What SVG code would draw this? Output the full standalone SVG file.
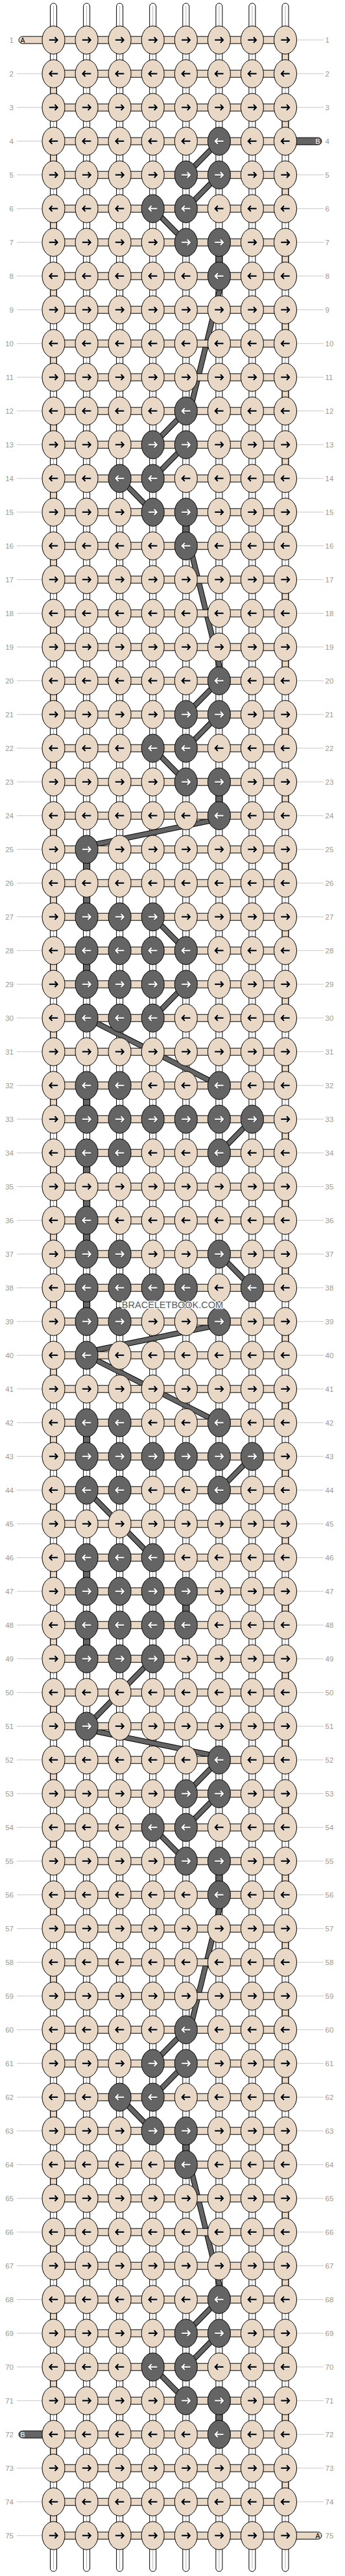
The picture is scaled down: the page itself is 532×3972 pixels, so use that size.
<svg xmlns="http://www.w3.org/2000/svg" xmlns:xlink="http://www.w3.org/1999/xlink" width="532" height="3972" viewBox="0 0 532 3972">
<style>
.wp{fill:#fff;stroke:#000;stroke-width:1}
.wc{fill:none;stroke:#b4b4b4;stroke-width:1}
.eo{fill:none;stroke:#000;stroke-width:10.5;stroke-dasharray:52 52}
.ei{fill:none;stroke:#E9D8C6;stroke-width:8.5;stroke-dasharray:52 52}
.vd{fill:#646464;stroke:#000;stroke-width:1}
.bo{fill:none;stroke:#000;stroke-width:8.6}
.bi{fill:none;stroke:#646464;stroke-width:6.6}
.hs{fill:#E9D8C6;stroke:#000;stroke-width:1}
.hd{fill:#646464;stroke:#000;stroke-width:1}
.kl{fill:#E9D8C6;stroke:#000;stroke-width:1}
.kd{fill:#646464;stroke:#000;stroke-width:1}
.hw{fill:none;stroke:#fff;stroke-width:3.4}
.sb{fill:none;stroke:#000;stroke-width:2.2}
.hb{fill:none;stroke:#2a2a2a;stroke-width:3.4}
.sw{fill:none;stroke:#fff;stroke-width:2.2}
.gl{fill:none;stroke:#c8c8c8;stroke-width:1}
.ll{font-family:"Liberation Sans",Arial,sans-serif;font-size:11.5px;fill:#999;text-anchor:end}
.rl{font-family:"Liberation Sans",Arial,sans-serif;font-size:11.5px;fill:#999;text-anchor:start}
.tA{font-family:"Liberation Sans",Arial,sans-serif;font-size:10.5px;fill:#000}
.tB{font-family:"Liberation Sans",Arial,sans-serif;font-size:10.5px;fill:#fff}
.wm{font-family:"Liberation Sans",Arial,sans-serif;font-size:14.5px;fill:#5a5a5a;stroke:#fff;stroke-width:2.4;paint-order:stroke;text-anchor:middle}
</style>
<defs>
<path id="ar" d="M-6.7,0H6.2M2,-4.4L6.2,0L2,4.4"/>
<g id="a"><ellipse class="kl" rx="17.5" ry="21.7"/><use href="#ar" class="hw"/><use href="#ar" class="sb"/></g>
<g id="b"><ellipse class="kl" rx="17.5" ry="21.7"/><g transform="scale(-1,1)"><use href="#ar" class="hw"/><use href="#ar" class="sb"/></g></g>
<g id="c"><ellipse class="kd" rx="17.5" ry="21.7"/><use href="#ar" class="hb"/><use href="#ar" class="sw"/></g>
<g id="d"><ellipse class="kd" rx="17.5" ry="21.7"/><g transform="scale(-1,1)"><use href="#ar" class="hb"/><use href="#ar" class="sw"/></g></g>
<g id="barlines">
<line x1="337.9" y1="217.7" x2="286.8" y2="269.7"/>
<line x1="337.9" y1="269.7" x2="286.8" y2="321.7"/>
<line x1="235.7" y1="321.7" x2="286.8" y2="373.7"/>
<line x1="343.9" y1="425.7" x2="292.8" y2="633.7"/>
<line x1="286.8" y1="633.7" x2="235.7" y2="685.7"/>
<line x1="286.8" y1="685.7" x2="235.7" y2="737.7"/>
<line x1="184.6" y1="737.7" x2="235.7" y2="789.7"/>
<line x1="292.8" y1="841.7" x2="343.9" y2="1049.7"/>
<line x1="337.9" y1="1049.7" x2="286.8" y2="1101.7"/>
<line x1="337.9" y1="1101.7" x2="286.8" y2="1153.7"/>
<line x1="235.7" y1="1153.7" x2="286.8" y2="1205.7"/>
<line x1="337.9" y1="1262.7" x2="133.6" y2="1304.7"/>
<line x1="235.7" y1="1413.7" x2="286.8" y2="1465.7"/>
<line x1="286.8" y1="1517.7" x2="235.7" y2="1569.7"/>
<line x1="133.6" y1="1569.7" x2="235.7" y2="1621.7"/>
<line x1="235.7" y1="1621.7" x2="337.9" y2="1673.7"/>
<line x1="388.9" y1="1725.7" x2="337.9" y2="1777.7"/>
<line x1="337.9" y1="1933.7" x2="388.9" y2="1985.7"/>
<line x1="337.9" y1="2042.7" x2="133.6" y2="2084.7"/>
<line x1="133.6" y1="2089.7" x2="235.7" y2="2141.7"/>
<line x1="235.7" y1="2141.7" x2="337.9" y2="2193.7"/>
<line x1="388.9" y1="2245.7" x2="337.9" y2="2297.7"/>
<line x1="133.6" y1="2297.7" x2="235.7" y2="2401.7"/>
<line x1="235.7" y1="2557.7" x2="133.6" y2="2661.7"/>
<line x1="133.6" y1="2666.7" x2="337.9" y2="2708.7"/>
<line x1="337.9" y1="2713.7" x2="286.8" y2="2765.7"/>
<line x1="337.9" y1="2765.7" x2="286.8" y2="2817.7"/>
<line x1="235.7" y1="2817.7" x2="286.8" y2="2869.7"/>
<line x1="343.9" y1="2921.7" x2="292.8" y2="3129.7"/>
<line x1="286.8" y1="3129.7" x2="235.7" y2="3181.7"/>
<line x1="286.8" y1="3181.7" x2="235.7" y2="3233.7"/>
<line x1="184.6" y1="3233.7" x2="235.7" y2="3285.7"/>
<line x1="292.8" y1="3337.7" x2="343.9" y2="3545.7"/>
<line x1="337.9" y1="3545.7" x2="286.8" y2="3597.7"/>
<line x1="337.9" y1="3597.7" x2="286.8" y2="3649.7"/>
<line x1="235.7" y1="3649.7" x2="286.8" y2="3701.7"/>
</g>
</defs>
<rect width="532" height="3972" fill="#fff"/>
<g id="warps">
<rect class="wp" x="77.5" y="5" width="10" height="3960" rx="5"/>
<rect class="wp" x="128.6" y="5" width="10" height="3960" rx="5"/>
<rect class="wp" x="179.6" y="5" width="10" height="3960" rx="5"/>
<rect class="wp" x="230.7" y="5" width="10" height="3960" rx="5"/>
<rect class="wp" x="281.8" y="5" width="10" height="3960" rx="5"/>
<rect class="wp" x="332.9" y="5" width="10" height="3960" rx="5"/>
<rect class="wp" x="383.9" y="5" width="10" height="3960" rx="5"/>
<rect class="wp" x="435" y="5" width="10" height="3960" rx="5"/>
<path class="wc" d="M82.5,9V3961M133.6,9V3961M184.6,9V3961M235.7,9V3961M286.8,9V3961M337.9,9V3961M388.9,9V3961M440,9V3961"/>
</g>
<g id="turns">
<path class="eo" d="M82.5,113.7V3909.7M440,61.7V3857.7"/>
<path class="ei" d="M82.5,113.7V3909.7M440,61.7V3857.7"/>
<rect class="vd" x="332.9" y="373.7" width="10" height="52"/>
<rect class="vd" x="281.8" y="789.7" width="10" height="52"/>
<rect class="vd" x="332.9" y="1205.7" width="10" height="52"/>
<rect class="vd" x="128.6" y="1309.7" width="10" height="104"/>
<rect class="vd" x="128.6" y="1465.7" width="10" height="52"/>
<rect class="vd" x="128.6" y="1673.7" width="10" height="52"/>
<rect class="vd" x="128.6" y="1777.7" width="10" height="156"/>
<rect class="vd" x="128.6" y="1985.7" width="10" height="52"/>
<rect class="vd" x="128.6" y="2193.7" width="10" height="52"/>
<rect class="vd" x="128.6" y="2401.7" width="10" height="52"/>
<rect class="vd" x="128.6" y="2505.7" width="10" height="52"/>
<rect class="vd" x="281.8" y="2453.7" width="10" height="52"/>
<rect class="vd" x="332.9" y="2869.7" width="10" height="52"/>
<rect class="vd" x="281.8" y="3285.7" width="10" height="52"/>
<rect class="vd" x="332.9" y="3701.7" width="10" height="52"/>
</g>
<g id="connectors">
<use href="#barlines" class="bo"/>
<use href="#barlines" class="bi"/>
</g>
<g id="rows">
<g id="row1" transform="translate(0,61.7)"><path class="gl" d="M457,0H499"/><text class="ll" x="21" y="4">1</text><text class="rl" x="501.5" y="4">1</text><rect class="hs" x="29" y="-5.5" width="411" height="11" rx="5.5"/><text class="tA" x="31.5" y="3.8">A</text><use id="k1-1" href="#a" x="82.5"/><use id="k1-2" href="#a" x="133.6"/><use id="k1-3" href="#a" x="184.6"/><use id="k1-4" href="#a" x="235.7"/><use id="k1-5" href="#a" x="286.8"/><use id="k1-6" href="#a" x="337.9"/><use id="k1-7" href="#a" x="388.9"/><use id="k1-8" href="#a" x="440"/></g>
<g id="row2" transform="translate(0,113.7)"><path class="gl" d="M26,0H65M457,0H499"/><text class="ll" x="21" y="4">2</text><text class="rl" x="501.5" y="4">2</text><rect class="hs" x="82.5" y="-5.5" width="357.5" height="11"/><use id="k2-1" href="#b" x="82.5"/><use id="k2-2" href="#b" x="133.6"/><use id="k2-3" href="#b" x="184.6"/><use id="k2-4" href="#b" x="235.7"/><use id="k2-5" href="#b" x="286.8"/><use id="k2-6" href="#b" x="337.9"/><use id="k2-7" href="#b" x="388.9"/><use id="k2-8" href="#b" x="440"/></g>
<g id="row3" transform="translate(0,165.7)"><path class="gl" d="M26,0H65M457,0H499"/><text class="ll" x="21" y="4">3</text><text class="rl" x="501.5" y="4">3</text><rect class="hs" x="82.5" y="-5.5" width="357.5" height="11"/><use id="k3-1" href="#a" x="82.5"/><use id="k3-2" href="#a" x="133.6"/><use id="k3-3" href="#a" x="184.6"/><use id="k3-4" href="#a" x="235.7"/><use id="k3-5" href="#a" x="286.8"/><use id="k3-6" href="#a" x="337.9"/><use id="k3-7" href="#a" x="388.9"/><use id="k3-8" href="#a" x="440"/></g>
<g id="row4" transform="translate(0,217.7)"><path class="gl" d="M26,0H65"/><text class="ll" x="21" y="4">4</text><text class="rl" x="501.5" y="4">4</text><rect class="hs" x="82.5" y="-5.5" width="357.5" height="11"/><rect class="hd" x="430" y="-5.5" width="66" height="11" rx="5.5"/><text class="tB" x="486.5" y="3.8">B</text><use id="k4-1" href="#b" x="82.5"/><use id="k4-2" href="#b" x="133.6"/><use id="k4-3" href="#b" x="184.6"/><use id="k4-4" href="#b" x="235.7"/><use id="k4-5" href="#b" x="286.8"/><use id="k4-6" href="#d" x="337.9"/><use id="k4-7" href="#b" x="388.9"/><use id="k4-8" href="#b" x="440"/></g>
<g id="row5" transform="translate(0,269.7)"><path class="gl" d="M26,0H65M457,0H499"/><text class="ll" x="21" y="4">5</text><text class="rl" x="501.5" y="4">5</text><rect class="hs" x="82.5" y="-5.5" width="357.5" height="11"/><use id="k5-1" href="#a" x="82.5"/><use id="k5-2" href="#a" x="133.6"/><use id="k5-3" href="#a" x="184.6"/><use id="k5-4" href="#a" x="235.7"/><use id="k5-5" href="#c" x="286.8"/><use id="k5-6" href="#c" x="337.9"/><use id="k5-7" href="#a" x="388.9"/><use id="k5-8" href="#a" x="440"/></g>
<g id="row6" transform="translate(0,321.7)"><path class="gl" d="M26,0H65M457,0H499"/><text class="ll" x="21" y="4">6</text><text class="rl" x="501.5" y="4">6</text><rect class="hs" x="82.5" y="-5.5" width="357.5" height="11"/><use id="k6-1" href="#b" x="82.5"/><use id="k6-2" href="#b" x="133.6"/><use id="k6-3" href="#b" x="184.6"/><use id="k6-4" href="#d" x="235.7"/><use id="k6-5" href="#d" x="286.8"/><use id="k6-6" href="#b" x="337.9"/><use id="k6-7" href="#b" x="388.9"/><use id="k6-8" href="#b" x="440"/></g>
<g id="row7" transform="translate(0,373.7)"><path class="gl" d="M26,0H65M457,0H499"/><text class="ll" x="21" y="4">7</text><text class="rl" x="501.5" y="4">7</text><rect class="hs" x="82.5" y="-5.5" width="357.5" height="11"/><use id="k7-1" href="#a" x="82.5"/><use id="k7-2" href="#a" x="133.6"/><use id="k7-3" href="#a" x="184.6"/><use id="k7-4" href="#a" x="235.7"/><use id="k7-5" href="#c" x="286.8"/><use id="k7-6" href="#c" x="337.9"/><use id="k7-7" href="#a" x="388.9"/><use id="k7-8" href="#a" x="440"/></g>
<g id="row8" transform="translate(0,425.7)"><path class="gl" d="M26,0H65M457,0H499"/><text class="ll" x="21" y="4">8</text><text class="rl" x="501.5" y="4">8</text><rect class="hs" x="82.5" y="-5.5" width="357.5" height="11"/><use id="k8-1" href="#b" x="82.5"/><use id="k8-2" href="#b" x="133.6"/><use id="k8-3" href="#b" x="184.6"/><use id="k8-4" href="#b" x="235.7"/><use id="k8-5" href="#b" x="286.8"/><use id="k8-6" href="#d" x="337.9"/><use id="k8-7" href="#b" x="388.9"/><use id="k8-8" href="#b" x="440"/></g>
<g id="row9" transform="translate(0,477.7)"><path class="gl" d="M26,0H65M457,0H499"/><text class="ll" x="21" y="4">9</text><text class="rl" x="501.5" y="4">9</text><rect class="hs" x="82.5" y="-5.5" width="357.5" height="11"/><use id="k9-1" href="#a" x="82.5"/><use id="k9-2" href="#a" x="133.6"/><use id="k9-3" href="#a" x="184.6"/><use id="k9-4" href="#a" x="235.7"/><use id="k9-5" href="#a" x="286.8"/><use id="k9-6" href="#a" x="337.9"/><use id="k9-7" href="#a" x="388.9"/><use id="k9-8" href="#a" x="440"/></g>
<g id="row10" transform="translate(0,529.7)"><path class="gl" d="M26,0H65M457,0H499"/><text class="ll" x="21" y="4">10</text><text class="rl" x="501.5" y="4">10</text><rect class="hs" x="82.5" y="-5.5" width="357.5" height="11"/><use id="k10-1" href="#b" x="82.5"/><use id="k10-2" href="#b" x="133.6"/><use id="k10-3" href="#b" x="184.6"/><use id="k10-4" href="#b" x="235.7"/><use id="k10-5" href="#b" x="286.8"/><use id="k10-6" href="#b" x="337.9"/><use id="k10-7" href="#b" x="388.9"/><use id="k10-8" href="#b" x="440"/></g>
<g id="row11" transform="translate(0,581.7)"><path class="gl" d="M26,0H65M457,0H499"/><text class="ll" x="21" y="4">11</text><text class="rl" x="501.5" y="4">11</text><rect class="hs" x="82.5" y="-5.5" width="357.5" height="11"/><use id="k11-1" href="#a" x="82.5"/><use id="k11-2" href="#a" x="133.6"/><use id="k11-3" href="#a" x="184.6"/><use id="k11-4" href="#a" x="235.7"/><use id="k11-5" href="#a" x="286.8"/><use id="k11-6" href="#a" x="337.9"/><use id="k11-7" href="#a" x="388.9"/><use id="k11-8" href="#a" x="440"/></g>
<g id="row12" transform="translate(0,633.7)"><path class="gl" d="M26,0H65M457,0H499"/><text class="ll" x="21" y="4">12</text><text class="rl" x="501.5" y="4">12</text><rect class="hs" x="82.5" y="-5.5" width="357.5" height="11"/><use id="k12-1" href="#b" x="82.5"/><use id="k12-2" href="#b" x="133.6"/><use id="k12-3" href="#b" x="184.6"/><use id="k12-4" href="#b" x="235.7"/><use id="k12-5" href="#d" x="286.8"/><use id="k12-6" href="#b" x="337.9"/><use id="k12-7" href="#b" x="388.9"/><use id="k12-8" href="#b" x="440"/></g>
<g id="row13" transform="translate(0,685.7)"><path class="gl" d="M26,0H65M457,0H499"/><text class="ll" x="21" y="4">13</text><text class="rl" x="501.5" y="4">13</text><rect class="hs" x="82.5" y="-5.5" width="357.5" height="11"/><use id="k13-1" href="#a" x="82.5"/><use id="k13-2" href="#a" x="133.6"/><use id="k13-3" href="#a" x="184.6"/><use id="k13-4" href="#c" x="235.7"/><use id="k13-5" href="#c" x="286.8"/><use id="k13-6" href="#a" x="337.9"/><use id="k13-7" href="#a" x="388.9"/><use id="k13-8" href="#a" x="440"/></g>
<g id="row14" transform="translate(0,737.7)"><path class="gl" d="M26,0H65M457,0H499"/><text class="ll" x="21" y="4">14</text><text class="rl" x="501.5" y="4">14</text><rect class="hs" x="82.5" y="-5.5" width="357.5" height="11"/><use id="k14-1" href="#b" x="82.5"/><use id="k14-2" href="#b" x="133.6"/><use id="k14-3" href="#d" x="184.6"/><use id="k14-4" href="#d" x="235.7"/><use id="k14-5" href="#b" x="286.8"/><use id="k14-6" href="#b" x="337.9"/><use id="k14-7" href="#b" x="388.9"/><use id="k14-8" href="#b" x="440"/></g>
<g id="row15" transform="translate(0,789.7)"><path class="gl" d="M26,0H65M457,0H499"/><text class="ll" x="21" y="4">15</text><text class="rl" x="501.5" y="4">15</text><rect class="hs" x="82.5" y="-5.5" width="357.5" height="11"/><use id="k15-1" href="#a" x="82.5"/><use id="k15-2" href="#a" x="133.6"/><use id="k15-3" href="#a" x="184.6"/><use id="k15-4" href="#c" x="235.7"/><use id="k15-5" href="#c" x="286.8"/><use id="k15-6" href="#a" x="337.9"/><use id="k15-7" href="#a" x="388.9"/><use id="k15-8" href="#a" x="440"/></g>
<g id="row16" transform="translate(0,841.7)"><path class="gl" d="M26,0H65M457,0H499"/><text class="ll" x="21" y="4">16</text><text class="rl" x="501.5" y="4">16</text><rect class="hs" x="82.5" y="-5.5" width="357.5" height="11"/><use id="k16-1" href="#b" x="82.5"/><use id="k16-2" href="#b" x="133.6"/><use id="k16-3" href="#b" x="184.6"/><use id="k16-4" href="#b" x="235.7"/><use id="k16-5" href="#d" x="286.8"/><use id="k16-6" href="#b" x="337.9"/><use id="k16-7" href="#b" x="388.9"/><use id="k16-8" href="#b" x="440"/></g>
<g id="row17" transform="translate(0,893.7)"><path class="gl" d="M26,0H65M457,0H499"/><text class="ll" x="21" y="4">17</text><text class="rl" x="501.5" y="4">17</text><rect class="hs" x="82.5" y="-5.5" width="357.5" height="11"/><use id="k17-1" href="#a" x="82.5"/><use id="k17-2" href="#a" x="133.6"/><use id="k17-3" href="#a" x="184.6"/><use id="k17-4" href="#a" x="235.7"/><use id="k17-5" href="#a" x="286.8"/><use id="k17-6" href="#a" x="337.9"/><use id="k17-7" href="#a" x="388.9"/><use id="k17-8" href="#a" x="440"/></g>
<g id="row18" transform="translate(0,945.7)"><path class="gl" d="M26,0H65M457,0H499"/><text class="ll" x="21" y="4">18</text><text class="rl" x="501.5" y="4">18</text><rect class="hs" x="82.5" y="-5.5" width="357.5" height="11"/><use id="k18-1" href="#b" x="82.5"/><use id="k18-2" href="#b" x="133.6"/><use id="k18-3" href="#b" x="184.6"/><use id="k18-4" href="#b" x="235.7"/><use id="k18-5" href="#b" x="286.8"/><use id="k18-6" href="#b" x="337.9"/><use id="k18-7" href="#b" x="388.9"/><use id="k18-8" href="#b" x="440"/></g>
<g id="row19" transform="translate(0,997.7)"><path class="gl" d="M26,0H65M457,0H499"/><text class="ll" x="21" y="4">19</text><text class="rl" x="501.5" y="4">19</text><rect class="hs" x="82.5" y="-5.5" width="357.5" height="11"/><use id="k19-1" href="#a" x="82.5"/><use id="k19-2" href="#a" x="133.6"/><use id="k19-3" href="#a" x="184.6"/><use id="k19-4" href="#a" x="235.7"/><use id="k19-5" href="#a" x="286.8"/><use id="k19-6" href="#a" x="337.9"/><use id="k19-7" href="#a" x="388.9"/><use id="k19-8" href="#a" x="440"/></g>
<g id="row20" transform="translate(0,1049.7)"><path class="gl" d="M26,0H65M457,0H499"/><text class="ll" x="21" y="4">20</text><text class="rl" x="501.5" y="4">20</text><rect class="hs" x="82.5" y="-5.5" width="357.5" height="11"/><use id="k20-1" href="#b" x="82.5"/><use id="k20-2" href="#b" x="133.6"/><use id="k20-3" href="#b" x="184.6"/><use id="k20-4" href="#b" x="235.7"/><use id="k20-5" href="#b" x="286.8"/><use id="k20-6" href="#d" x="337.9"/><use id="k20-7" href="#b" x="388.9"/><use id="k20-8" href="#b" x="440"/></g>
<g id="row21" transform="translate(0,1101.7)"><path class="gl" d="M26,0H65M457,0H499"/><text class="ll" x="21" y="4">21</text><text class="rl" x="501.5" y="4">21</text><rect class="hs" x="82.5" y="-5.5" width="357.5" height="11"/><use id="k21-1" href="#a" x="82.5"/><use id="k21-2" href="#a" x="133.6"/><use id="k21-3" href="#a" x="184.6"/><use id="k21-4" href="#a" x="235.7"/><use id="k21-5" href="#c" x="286.8"/><use id="k21-6" href="#c" x="337.9"/><use id="k21-7" href="#a" x="388.9"/><use id="k21-8" href="#a" x="440"/></g>
<g id="row22" transform="translate(0,1153.7)"><path class="gl" d="M26,0H65M457,0H499"/><text class="ll" x="21" y="4">22</text><text class="rl" x="501.5" y="4">22</text><rect class="hs" x="82.5" y="-5.5" width="357.5" height="11"/><use id="k22-1" href="#b" x="82.5"/><use id="k22-2" href="#b" x="133.6"/><use id="k22-3" href="#b" x="184.6"/><use id="k22-4" href="#d" x="235.7"/><use id="k22-5" href="#d" x="286.8"/><use id="k22-6" href="#b" x="337.9"/><use id="k22-7" href="#b" x="388.9"/><use id="k22-8" href="#b" x="440"/></g>
<g id="row23" transform="translate(0,1205.7)"><path class="gl" d="M26,0H65M457,0H499"/><text class="ll" x="21" y="4">23</text><text class="rl" x="501.5" y="4">23</text><rect class="hs" x="82.5" y="-5.5" width="357.5" height="11"/><use id="k23-1" href="#a" x="82.5"/><use id="k23-2" href="#a" x="133.6"/><use id="k23-3" href="#a" x="184.6"/><use id="k23-4" href="#a" x="235.7"/><use id="k23-5" href="#c" x="286.8"/><use id="k23-6" href="#c" x="337.9"/><use id="k23-7" href="#a" x="388.9"/><use id="k23-8" href="#a" x="440"/></g>
<g id="row24" transform="translate(0,1257.7)"><path class="gl" d="M26,0H65M457,0H499"/><text class="ll" x="21" y="4">24</text><text class="rl" x="501.5" y="4">24</text><rect class="hs" x="82.5" y="-5.5" width="357.5" height="11"/><use id="k24-1" href="#b" x="82.5"/><use id="k24-2" href="#b" x="133.6"/><use id="k24-3" href="#b" x="184.6"/><use id="k24-4" href="#b" x="235.7"/><use id="k24-5" href="#b" x="286.8"/><use id="k24-6" href="#d" x="337.9"/><use id="k24-7" href="#b" x="388.9"/><use id="k24-8" href="#b" x="440"/></g>
<g id="row25" transform="translate(0,1309.7)"><path class="gl" d="M26,0H65M457,0H499"/><text class="ll" x="21" y="4">25</text><text class="rl" x="501.5" y="4">25</text><rect class="hs" x="82.5" y="-5.5" width="357.5" height="11"/><use id="k25-1" href="#a" x="82.5"/><use id="k25-2" href="#c" x="133.6"/><use id="k25-3" href="#a" x="184.6"/><use id="k25-4" href="#a" x="235.7"/><use id="k25-5" href="#a" x="286.8"/><use id="k25-6" href="#a" x="337.9"/><use id="k25-7" href="#a" x="388.9"/><use id="k25-8" href="#a" x="440"/></g>
<g id="row26" transform="translate(0,1361.7)"><path class="gl" d="M26,0H65M457,0H499"/><text class="ll" x="21" y="4">26</text><text class="rl" x="501.5" y="4">26</text><rect class="hs" x="82.5" y="-5.5" width="357.5" height="11"/><use id="k26-1" href="#b" x="82.5"/><use id="k26-2" href="#b" x="133.6"/><use id="k26-3" href="#b" x="184.6"/><use id="k26-4" href="#b" x="235.7"/><use id="k26-5" href="#b" x="286.8"/><use id="k26-6" href="#b" x="337.9"/><use id="k26-7" href="#b" x="388.9"/><use id="k26-8" href="#b" x="440"/></g>
<g id="row27" transform="translate(0,1413.7)"><path class="gl" d="M26,0H65M457,0H499"/><text class="ll" x="21" y="4">27</text><text class="rl" x="501.5" y="4">27</text><rect class="hs" x="82.5" y="-5.5" width="357.5" height="11"/><use id="k27-1" href="#a" x="82.5"/><use id="k27-2" href="#c" x="133.6"/><use id="k27-3" href="#c" x="184.6"/><use id="k27-4" href="#c" x="235.7"/><use id="k27-5" href="#a" x="286.8"/><use id="k27-6" href="#a" x="337.9"/><use id="k27-7" href="#a" x="388.9"/><use id="k27-8" href="#a" x="440"/></g>
<g id="row28" transform="translate(0,1465.7)"><path class="gl" d="M26,0H65M457,0H499"/><text class="ll" x="21" y="4">28</text><text class="rl" x="501.5" y="4">28</text><rect class="hs" x="82.5" y="-5.5" width="357.5" height="11"/><use id="k28-1" href="#b" x="82.5"/><use id="k28-2" href="#d" x="133.6"/><use id="k28-3" href="#d" x="184.6"/><use id="k28-4" href="#d" x="235.7"/><use id="k28-5" href="#d" x="286.8"/><use id="k28-6" href="#b" x="337.9"/><use id="k28-7" href="#b" x="388.9"/><use id="k28-8" href="#b" x="440"/></g>
<g id="row29" transform="translate(0,1517.7)"><path class="gl" d="M26,0H65M457,0H499"/><text class="ll" x="21" y="4">29</text><text class="rl" x="501.5" y="4">29</text><rect class="hs" x="82.5" y="-5.5" width="357.5" height="11"/><use id="k29-1" href="#a" x="82.5"/><use id="k29-2" href="#c" x="133.6"/><use id="k29-3" href="#c" x="184.6"/><use id="k29-4" href="#c" x="235.7"/><use id="k29-5" href="#c" x="286.8"/><use id="k29-6" href="#a" x="337.9"/><use id="k29-7" href="#a" x="388.9"/><use id="k29-8" href="#a" x="440"/></g>
<g id="row30" transform="translate(0,1569.7)"><path class="gl" d="M26,0H65M457,0H499"/><text class="ll" x="21" y="4">30</text><text class="rl" x="501.5" y="4">30</text><rect class="hs" x="82.5" y="-5.5" width="357.5" height="11"/><use id="k30-1" href="#b" x="82.5"/><use id="k30-2" href="#d" x="133.6"/><use id="k30-3" href="#d" x="184.6"/><use id="k30-4" href="#d" x="235.7"/><use id="k30-5" href="#b" x="286.8"/><use id="k30-6" href="#b" x="337.9"/><use id="k30-7" href="#b" x="388.9"/><use id="k30-8" href="#b" x="440"/></g>
<g id="row31" transform="translate(0,1621.7)"><path class="gl" d="M26,0H65M457,0H499"/><text class="ll" x="21" y="4">31</text><text class="rl" x="501.5" y="4">31</text><rect class="hs" x="82.5" y="-5.5" width="357.5" height="11"/><use id="k31-1" href="#a" x="82.5"/><use id="k31-2" href="#a" x="133.6"/><use id="k31-3" href="#a" x="184.6"/><use id="k31-4" href="#a" x="235.7"/><use id="k31-5" href="#a" x="286.8"/><use id="k31-6" href="#a" x="337.9"/><use id="k31-7" href="#a" x="388.9"/><use id="k31-8" href="#a" x="440"/></g>
<g id="row32" transform="translate(0,1673.7)"><path class="gl" d="M26,0H65M457,0H499"/><text class="ll" x="21" y="4">32</text><text class="rl" x="501.5" y="4">32</text><rect class="hs" x="82.5" y="-5.5" width="357.5" height="11"/><use id="k32-1" href="#b" x="82.5"/><use id="k32-2" href="#d" x="133.6"/><use id="k32-3" href="#d" x="184.6"/><use id="k32-4" href="#b" x="235.7"/><use id="k32-5" href="#b" x="286.8"/><use id="k32-6" href="#d" x="337.9"/><use id="k32-7" href="#b" x="388.9"/><use id="k32-8" href="#b" x="440"/></g>
<g id="row33" transform="translate(0,1725.7)"><path class="gl" d="M26,0H65M457,0H499"/><text class="ll" x="21" y="4">33</text><text class="rl" x="501.5" y="4">33</text><rect class="hs" x="82.5" y="-5.5" width="357.5" height="11"/><use id="k33-1" href="#a" x="82.5"/><use id="k33-2" href="#c" x="133.6"/><use id="k33-3" href="#c" x="184.6"/><use id="k33-4" href="#c" x="235.7"/><use id="k33-5" href="#c" x="286.8"/><use id="k33-6" href="#c" x="337.9"/><use id="k33-7" href="#c" x="388.9"/><use id="k33-8" href="#a" x="440"/></g>
<g id="row34" transform="translate(0,1777.7)"><path class="gl" d="M26,0H65M457,0H499"/><text class="ll" x="21" y="4">34</text><text class="rl" x="501.5" y="4">34</text><rect class="hs" x="82.5" y="-5.5" width="357.5" height="11"/><use id="k34-1" href="#b" x="82.5"/><use id="k34-2" href="#d" x="133.6"/><use id="k34-3" href="#d" x="184.6"/><use id="k34-4" href="#b" x="235.7"/><use id="k34-5" href="#b" x="286.8"/><use id="k34-6" href="#d" x="337.9"/><use id="k34-7" href="#b" x="388.9"/><use id="k34-8" href="#b" x="440"/></g>
<g id="row35" transform="translate(0,1829.7)"><path class="gl" d="M26,0H65M457,0H499"/><text class="ll" x="21" y="4">35</text><text class="rl" x="501.5" y="4">35</text><rect class="hs" x="82.5" y="-5.5" width="357.5" height="11"/><use id="k35-1" href="#a" x="82.5"/><use id="k35-2" href="#a" x="133.6"/><use id="k35-3" href="#a" x="184.6"/><use id="k35-4" href="#a" x="235.7"/><use id="k35-5" href="#a" x="286.8"/><use id="k35-6" href="#a" x="337.9"/><use id="k35-7" href="#a" x="388.9"/><use id="k35-8" href="#a" x="440"/></g>
<g id="row36" transform="translate(0,1881.7)"><path class="gl" d="M26,0H65M457,0H499"/><text class="ll" x="21" y="4">36</text><text class="rl" x="501.5" y="4">36</text><rect class="hs" x="82.5" y="-5.5" width="357.5" height="11"/><use id="k36-1" href="#b" x="82.5"/><use id="k36-2" href="#d" x="133.6"/><use id="k36-3" href="#b" x="184.6"/><use id="k36-4" href="#b" x="235.7"/><use id="k36-5" href="#b" x="286.8"/><use id="k36-6" href="#b" x="337.9"/><use id="k36-7" href="#b" x="388.9"/><use id="k36-8" href="#b" x="440"/></g>
<g id="row37" transform="translate(0,1933.7)"><path class="gl" d="M26,0H65M457,0H499"/><text class="ll" x="21" y="4">37</text><text class="rl" x="501.5" y="4">37</text><rect class="hs" x="82.5" y="-5.5" width="357.5" height="11"/><use id="k37-1" href="#a" x="82.5"/><use id="k37-2" href="#c" x="133.6"/><use id="k37-3" href="#c" x="184.6"/><use id="k37-4" href="#a" x="235.7"/><use id="k37-5" href="#a" x="286.8"/><use id="k37-6" href="#c" x="337.9"/><use id="k37-7" href="#a" x="388.9"/><use id="k37-8" href="#a" x="440"/></g>
<g id="row38" transform="translate(0,1985.7)"><path class="gl" d="M26,0H65M457,0H499"/><text class="ll" x="21" y="4">38</text><text class="rl" x="501.5" y="4">38</text><rect class="hs" x="82.5" y="-5.5" width="357.5" height="11"/><use id="k38-1" href="#b" x="82.5"/><use id="k38-2" href="#d" x="133.6"/><use id="k38-3" href="#d" x="184.6"/><use id="k38-4" href="#d" x="235.7"/><use id="k38-5" href="#d" x="286.8"/><use id="k38-6" href="#b" x="337.9"/><use id="k38-7" href="#d" x="388.9"/><use id="k38-8" href="#b" x="440"/></g>
<g id="row39" transform="translate(0,2037.7)"><path class="gl" d="M26,0H65M457,0H499"/><text class="ll" x="21" y="4">39</text><text class="rl" x="501.5" y="4">39</text><rect class="hs" x="82.5" y="-5.5" width="357.5" height="11"/><use id="k39-1" href="#a" x="82.5"/><use id="k39-2" href="#c" x="133.6"/><use id="k39-3" href="#c" x="184.6"/><use id="k39-4" href="#a" x="235.7"/><use id="k39-5" href="#a" x="286.8"/><use id="k39-6" href="#c" x="337.9"/><use id="k39-7" href="#a" x="388.9"/><use id="k39-8" href="#a" x="440"/></g>
<g id="row40" transform="translate(0,2089.7)"><path class="gl" d="M26,0H65M457,0H499"/><text class="ll" x="21" y="4">40</text><text class="rl" x="501.5" y="4">40</text><rect class="hs" x="82.5" y="-5.5" width="357.5" height="11"/><use id="k40-1" href="#b" x="82.5"/><use id="k40-2" href="#d" x="133.6"/><use id="k40-3" href="#b" x="184.6"/><use id="k40-4" href="#b" x="235.7"/><use id="k40-5" href="#b" x="286.8"/><use id="k40-6" href="#b" x="337.9"/><use id="k40-7" href="#b" x="388.9"/><use id="k40-8" href="#b" x="440"/></g>
<g id="row41" transform="translate(0,2141.7)"><path class="gl" d="M26,0H65M457,0H499"/><text class="ll" x="21" y="4">41</text><text class="rl" x="501.5" y="4">41</text><rect class="hs" x="82.5" y="-5.5" width="357.5" height="11"/><use id="k41-1" href="#a" x="82.5"/><use id="k41-2" href="#a" x="133.6"/><use id="k41-3" href="#a" x="184.6"/><use id="k41-4" href="#a" x="235.7"/><use id="k41-5" href="#a" x="286.8"/><use id="k41-6" href="#a" x="337.9"/><use id="k41-7" href="#a" x="388.9"/><use id="k41-8" href="#a" x="440"/></g>
<g id="row42" transform="translate(0,2193.7)"><path class="gl" d="M26,0H65M457,0H499"/><text class="ll" x="21" y="4">42</text><text class="rl" x="501.5" y="4">42</text><rect class="hs" x="82.5" y="-5.5" width="357.5" height="11"/><use id="k42-1" href="#b" x="82.5"/><use id="k42-2" href="#d" x="133.6"/><use id="k42-3" href="#d" x="184.6"/><use id="k42-4" href="#b" x="235.7"/><use id="k42-5" href="#b" x="286.8"/><use id="k42-6" href="#d" x="337.9"/><use id="k42-7" href="#b" x="388.9"/><use id="k42-8" href="#b" x="440"/></g>
<g id="row43" transform="translate(0,2245.7)"><path class="gl" d="M26,0H65M457,0H499"/><text class="ll" x="21" y="4">43</text><text class="rl" x="501.5" y="4">43</text><rect class="hs" x="82.5" y="-5.5" width="357.5" height="11"/><use id="k43-1" href="#a" x="82.5"/><use id="k43-2" href="#c" x="133.6"/><use id="k43-3" href="#c" x="184.6"/><use id="k43-4" href="#c" x="235.7"/><use id="k43-5" href="#c" x="286.8"/><use id="k43-6" href="#c" x="337.9"/><use id="k43-7" href="#c" x="388.9"/><use id="k43-8" href="#a" x="440"/></g>
<g id="row44" transform="translate(0,2297.7)"><path class="gl" d="M26,0H65M457,0H499"/><text class="ll" x="21" y="4">44</text><text class="rl" x="501.5" y="4">44</text><rect class="hs" x="82.5" y="-5.5" width="357.5" height="11"/><use id="k44-1" href="#b" x="82.5"/><use id="k44-2" href="#d" x="133.6"/><use id="k44-3" href="#d" x="184.6"/><use id="k44-4" href="#b" x="235.7"/><use id="k44-5" href="#b" x="286.8"/><use id="k44-6" href="#d" x="337.9"/><use id="k44-7" href="#b" x="388.9"/><use id="k44-8" href="#b" x="440"/></g>
<g id="row45" transform="translate(0,2349.7)"><path class="gl" d="M26,0H65M457,0H499"/><text class="ll" x="21" y="4">45</text><text class="rl" x="501.5" y="4">45</text><rect class="hs" x="82.5" y="-5.5" width="357.5" height="11"/><use id="k45-1" href="#a" x="82.5"/><use id="k45-2" href="#a" x="133.6"/><use id="k45-3" href="#a" x="184.6"/><use id="k45-4" href="#a" x="235.7"/><use id="k45-5" href="#a" x="286.8"/><use id="k45-6" href="#a" x="337.9"/><use id="k45-7" href="#a" x="388.9"/><use id="k45-8" href="#a" x="440"/></g>
<g id="row46" transform="translate(0,2401.7)"><path class="gl" d="M26,0H65M457,0H499"/><text class="ll" x="21" y="4">46</text><text class="rl" x="501.5" y="4">46</text><rect class="hs" x="82.5" y="-5.5" width="357.5" height="11"/><use id="k46-1" href="#b" x="82.5"/><use id="k46-2" href="#d" x="133.6"/><use id="k46-3" href="#d" x="184.6"/><use id="k46-4" href="#d" x="235.7"/><use id="k46-5" href="#b" x="286.8"/><use id="k46-6" href="#b" x="337.9"/><use id="k46-7" href="#b" x="388.9"/><use id="k46-8" href="#b" x="440"/></g>
<g id="row47" transform="translate(0,2453.7)"><path class="gl" d="M26,0H65M457,0H499"/><text class="ll" x="21" y="4">47</text><text class="rl" x="501.5" y="4">47</text><rect class="hs" x="82.5" y="-5.5" width="357.5" height="11"/><use id="k47-1" href="#a" x="82.5"/><use id="k47-2" href="#c" x="133.6"/><use id="k47-3" href="#c" x="184.6"/><use id="k47-4" href="#c" x="235.7"/><use id="k47-5" href="#c" x="286.8"/><use id="k47-6" href="#a" x="337.9"/><use id="k47-7" href="#a" x="388.9"/><use id="k47-8" href="#a" x="440"/></g>
<g id="row48" transform="translate(0,2505.7)"><path class="gl" d="M26,0H65M457,0H499"/><text class="ll" x="21" y="4">48</text><text class="rl" x="501.5" y="4">48</text><rect class="hs" x="82.5" y="-5.5" width="357.5" height="11"/><use id="k48-1" href="#b" x="82.5"/><use id="k48-2" href="#d" x="133.6"/><use id="k48-3" href="#d" x="184.6"/><use id="k48-4" href="#d" x="235.7"/><use id="k48-5" href="#d" x="286.8"/><use id="k48-6" href="#b" x="337.9"/><use id="k48-7" href="#b" x="388.9"/><use id="k48-8" href="#b" x="440"/></g>
<g id="row49" transform="translate(0,2557.7)"><path class="gl" d="M26,0H65M457,0H499"/><text class="ll" x="21" y="4">49</text><text class="rl" x="501.5" y="4">49</text><rect class="hs" x="82.5" y="-5.5" width="357.5" height="11"/><use id="k49-1" href="#a" x="82.5"/><use id="k49-2" href="#c" x="133.6"/><use id="k49-3" href="#c" x="184.6"/><use id="k49-4" href="#c" x="235.7"/><use id="k49-5" href="#a" x="286.8"/><use id="k49-6" href="#a" x="337.9"/><use id="k49-7" href="#a" x="388.9"/><use id="k49-8" href="#a" x="440"/></g>
<g id="row50" transform="translate(0,2609.7)"><path class="gl" d="M26,0H65M457,0H499"/><text class="ll" x="21" y="4">50</text><text class="rl" x="501.5" y="4">50</text><rect class="hs" x="82.5" y="-5.5" width="357.5" height="11"/><use id="k50-1" href="#b" x="82.5"/><use id="k50-2" href="#b" x="133.6"/><use id="k50-3" href="#b" x="184.6"/><use id="k50-4" href="#b" x="235.7"/><use id="k50-5" href="#b" x="286.8"/><use id="k50-6" href="#b" x="337.9"/><use id="k50-7" href="#b" x="388.9"/><use id="k50-8" href="#b" x="440"/></g>
<g id="row51" transform="translate(0,2661.7)"><path class="gl" d="M26,0H65M457,0H499"/><text class="ll" x="21" y="4">51</text><text class="rl" x="501.5" y="4">51</text><rect class="hs" x="82.5" y="-5.5" width="357.5" height="11"/><use id="k51-1" href="#a" x="82.5"/><use id="k51-2" href="#c" x="133.6"/><use id="k51-3" href="#a" x="184.6"/><use id="k51-4" href="#a" x="235.7"/><use id="k51-5" href="#a" x="286.8"/><use id="k51-6" href="#a" x="337.9"/><use id="k51-7" href="#a" x="388.9"/><use id="k51-8" href="#a" x="440"/></g>
<g id="row52" transform="translate(0,2713.7)"><path class="gl" d="M26,0H65M457,0H499"/><text class="ll" x="21" y="4">52</text><text class="rl" x="501.5" y="4">52</text><rect class="hs" x="82.5" y="-5.5" width="357.5" height="11"/><use id="k52-1" href="#b" x="82.5"/><use id="k52-2" href="#b" x="133.6"/><use id="k52-3" href="#b" x="184.6"/><use id="k52-4" href="#b" x="235.7"/><use id="k52-5" href="#b" x="286.8"/><use id="k52-6" href="#d" x="337.9"/><use id="k52-7" href="#b" x="388.9"/><use id="k52-8" href="#b" x="440"/></g>
<g id="row53" transform="translate(0,2765.7)"><path class="gl" d="M26,0H65M457,0H499"/><text class="ll" x="21" y="4">53</text><text class="rl" x="501.5" y="4">53</text><rect class="hs" x="82.5" y="-5.5" width="357.5" height="11"/><use id="k53-1" href="#a" x="82.5"/><use id="k53-2" href="#a" x="133.6"/><use id="k53-3" href="#a" x="184.6"/><use id="k53-4" href="#a" x="235.7"/><use id="k53-5" href="#c" x="286.8"/><use id="k53-6" href="#c" x="337.9"/><use id="k53-7" href="#a" x="388.9"/><use id="k53-8" href="#a" x="440"/></g>
<g id="row54" transform="translate(0,2817.7)"><path class="gl" d="M26,0H65M457,0H499"/><text class="ll" x="21" y="4">54</text><text class="rl" x="501.5" y="4">54</text><rect class="hs" x="82.5" y="-5.5" width="357.5" height="11"/><use id="k54-1" href="#b" x="82.5"/><use id="k54-2" href="#b" x="133.6"/><use id="k54-3" href="#b" x="184.6"/><use id="k54-4" href="#d" x="235.7"/><use id="k54-5" href="#d" x="286.8"/><use id="k54-6" href="#b" x="337.9"/><use id="k54-7" href="#b" x="388.9"/><use id="k54-8" href="#b" x="440"/></g>
<g id="row55" transform="translate(0,2869.7)"><path class="gl" d="M26,0H65M457,0H499"/><text class="ll" x="21" y="4">55</text><text class="rl" x="501.5" y="4">55</text><rect class="hs" x="82.5" y="-5.5" width="357.5" height="11"/><use id="k55-1" href="#a" x="82.5"/><use id="k55-2" href="#a" x="133.6"/><use id="k55-3" href="#a" x="184.6"/><use id="k55-4" href="#a" x="235.7"/><use id="k55-5" href="#c" x="286.8"/><use id="k55-6" href="#c" x="337.9"/><use id="k55-7" href="#a" x="388.9"/><use id="k55-8" href="#a" x="440"/></g>
<g id="row56" transform="translate(0,2921.7)"><path class="gl" d="M26,0H65M457,0H499"/><text class="ll" x="21" y="4">56</text><text class="rl" x="501.5" y="4">56</text><rect class="hs" x="82.5" y="-5.5" width="357.5" height="11"/><use id="k56-1" href="#b" x="82.5"/><use id="k56-2" href="#b" x="133.6"/><use id="k56-3" href="#b" x="184.6"/><use id="k56-4" href="#b" x="235.7"/><use id="k56-5" href="#b" x="286.8"/><use id="k56-6" href="#d" x="337.9"/><use id="k56-7" href="#b" x="388.9"/><use id="k56-8" href="#b" x="440"/></g>
<g id="row57" transform="translate(0,2973.7)"><path class="gl" d="M26,0H65M457,0H499"/><text class="ll" x="21" y="4">57</text><text class="rl" x="501.5" y="4">57</text><rect class="hs" x="82.5" y="-5.5" width="357.5" height="11"/><use id="k57-1" href="#a" x="82.5"/><use id="k57-2" href="#a" x="133.6"/><use id="k57-3" href="#a" x="184.6"/><use id="k57-4" href="#a" x="235.7"/><use id="k57-5" href="#a" x="286.8"/><use id="k57-6" href="#a" x="337.9"/><use id="k57-7" href="#a" x="388.9"/><use id="k57-8" href="#a" x="440"/></g>
<g id="row58" transform="translate(0,3025.7)"><path class="gl" d="M26,0H65M457,0H499"/><text class="ll" x="21" y="4">58</text><text class="rl" x="501.5" y="4">58</text><rect class="hs" x="82.5" y="-5.5" width="357.5" height="11"/><use id="k58-1" href="#b" x="82.5"/><use id="k58-2" href="#b" x="133.6"/><use id="k58-3" href="#b" x="184.6"/><use id="k58-4" href="#b" x="235.7"/><use id="k58-5" href="#b" x="286.8"/><use id="k58-6" href="#b" x="337.9"/><use id="k58-7" href="#b" x="388.9"/><use id="k58-8" href="#b" x="440"/></g>
<g id="row59" transform="translate(0,3077.7)"><path class="gl" d="M26,0H65M457,0H499"/><text class="ll" x="21" y="4">59</text><text class="rl" x="501.5" y="4">59</text><rect class="hs" x="82.5" y="-5.5" width="357.5" height="11"/><use id="k59-1" href="#a" x="82.5"/><use id="k59-2" href="#a" x="133.6"/><use id="k59-3" href="#a" x="184.6"/><use id="k59-4" href="#a" x="235.7"/><use id="k59-5" href="#a" x="286.8"/><use id="k59-6" href="#a" x="337.9"/><use id="k59-7" href="#a" x="388.9"/><use id="k59-8" href="#a" x="440"/></g>
<g id="row60" transform="translate(0,3129.7)"><path class="gl" d="M26,0H65M457,0H499"/><text class="ll" x="21" y="4">60</text><text class="rl" x="501.5" y="4">60</text><rect class="hs" x="82.5" y="-5.5" width="357.5" height="11"/><use id="k60-1" href="#b" x="82.5"/><use id="k60-2" href="#b" x="133.6"/><use id="k60-3" href="#b" x="184.6"/><use id="k60-4" href="#b" x="235.7"/><use id="k60-5" href="#d" x="286.8"/><use id="k60-6" href="#b" x="337.9"/><use id="k60-7" href="#b" x="388.9"/><use id="k60-8" href="#b" x="440"/></g>
<g id="row61" transform="translate(0,3181.7)"><path class="gl" d="M26,0H65M457,0H499"/><text class="ll" x="21" y="4">61</text><text class="rl" x="501.5" y="4">61</text><rect class="hs" x="82.5" y="-5.5" width="357.5" height="11"/><use id="k61-1" href="#a" x="82.5"/><use id="k61-2" href="#a" x="133.6"/><use id="k61-3" href="#a" x="184.6"/><use id="k61-4" href="#c" x="235.7"/><use id="k61-5" href="#c" x="286.8"/><use id="k61-6" href="#a" x="337.9"/><use id="k61-7" href="#a" x="388.9"/><use id="k61-8" href="#a" x="440"/></g>
<g id="row62" transform="translate(0,3233.7)"><path class="gl" d="M26,0H65M457,0H499"/><text class="ll" x="21" y="4">62</text><text class="rl" x="501.5" y="4">62</text><rect class="hs" x="82.5" y="-5.5" width="357.5" height="11"/><use id="k62-1" href="#b" x="82.5"/><use id="k62-2" href="#b" x="133.6"/><use id="k62-3" href="#d" x="184.6"/><use id="k62-4" href="#d" x="235.7"/><use id="k62-5" href="#b" x="286.8"/><use id="k62-6" href="#b" x="337.9"/><use id="k62-7" href="#b" x="388.9"/><use id="k62-8" href="#b" x="440"/></g>
<g id="row63" transform="translate(0,3285.7)"><path class="gl" d="M26,0H65M457,0H499"/><text class="ll" x="21" y="4">63</text><text class="rl" x="501.5" y="4">63</text><rect class="hs" x="82.5" y="-5.5" width="357.5" height="11"/><use id="k63-1" href="#a" x="82.5"/><use id="k63-2" href="#a" x="133.6"/><use id="k63-3" href="#a" x="184.6"/><use id="k63-4" href="#c" x="235.7"/><use id="k63-5" href="#c" x="286.8"/><use id="k63-6" href="#a" x="337.9"/><use id="k63-7" href="#a" x="388.9"/><use id="k63-8" href="#a" x="440"/></g>
<g id="row64" transform="translate(0,3337.7)"><path class="gl" d="M26,0H65M457,0H499"/><text class="ll" x="21" y="4">64</text><text class="rl" x="501.5" y="4">64</text><rect class="hs" x="82.5" y="-5.5" width="357.5" height="11"/><use id="k64-1" href="#b" x="82.5"/><use id="k64-2" href="#b" x="133.6"/><use id="k64-3" href="#b" x="184.6"/><use id="k64-4" href="#b" x="235.7"/><use id="k64-5" href="#d" x="286.8"/><use id="k64-6" href="#b" x="337.9"/><use id="k64-7" href="#b" x="388.9"/><use id="k64-8" href="#b" x="440"/></g>
<g id="row65" transform="translate(0,3389.7)"><path class="gl" d="M26,0H65M457,0H499"/><text class="ll" x="21" y="4">65</text><text class="rl" x="501.5" y="4">65</text><rect class="hs" x="82.5" y="-5.5" width="357.5" height="11"/><use id="k65-1" href="#a" x="82.5"/><use id="k65-2" href="#a" x="133.6"/><use id="k65-3" href="#a" x="184.6"/><use id="k65-4" href="#a" x="235.7"/><use id="k65-5" href="#a" x="286.8"/><use id="k65-6" href="#a" x="337.9"/><use id="k65-7" href="#a" x="388.9"/><use id="k65-8" href="#a" x="440"/></g>
<g id="row66" transform="translate(0,3441.7)"><path class="gl" d="M26,0H65M457,0H499"/><text class="ll" x="21" y="4">66</text><text class="rl" x="501.5" y="4">66</text><rect class="hs" x="82.5" y="-5.5" width="357.5" height="11"/><use id="k66-1" href="#b" x="82.5"/><use id="k66-2" href="#b" x="133.6"/><use id="k66-3" href="#b" x="184.6"/><use id="k66-4" href="#b" x="235.7"/><use id="k66-5" href="#b" x="286.8"/><use id="k66-6" href="#b" x="337.9"/><use id="k66-7" href="#b" x="388.9"/><use id="k66-8" href="#b" x="440"/></g>
<g id="row67" transform="translate(0,3493.7)"><path class="gl" d="M26,0H65M457,0H499"/><text class="ll" x="21" y="4">67</text><text class="rl" x="501.5" y="4">67</text><rect class="hs" x="82.5" y="-5.5" width="357.5" height="11"/><use id="k67-1" href="#a" x="82.5"/><use id="k67-2" href="#a" x="133.6"/><use id="k67-3" href="#a" x="184.6"/><use id="k67-4" href="#a" x="235.7"/><use id="k67-5" href="#a" x="286.8"/><use id="k67-6" href="#a" x="337.9"/><use id="k67-7" href="#a" x="388.9"/><use id="k67-8" href="#a" x="440"/></g>
<g id="row68" transform="translate(0,3545.7)"><path class="gl" d="M26,0H65M457,0H499"/><text class="ll" x="21" y="4">68</text><text class="rl" x="501.5" y="4">68</text><rect class="hs" x="82.5" y="-5.5" width="357.5" height="11"/><use id="k68-1" href="#b" x="82.5"/><use id="k68-2" href="#b" x="133.6"/><use id="k68-3" href="#b" x="184.6"/><use id="k68-4" href="#b" x="235.7"/><use id="k68-5" href="#b" x="286.8"/><use id="k68-6" href="#d" x="337.9"/><use id="k68-7" href="#b" x="388.9"/><use id="k68-8" href="#b" x="440"/></g>
<g id="row69" transform="translate(0,3597.7)"><path class="gl" d="M26,0H65M457,0H499"/><text class="ll" x="21" y="4">69</text><text class="rl" x="501.5" y="4">69</text><rect class="hs" x="82.5" y="-5.5" width="357.5" height="11"/><use id="k69-1" href="#a" x="82.5"/><use id="k69-2" href="#a" x="133.6"/><use id="k69-3" href="#a" x="184.6"/><use id="k69-4" href="#a" x="235.7"/><use id="k69-5" href="#c" x="286.8"/><use id="k69-6" href="#c" x="337.9"/><use id="k69-7" href="#a" x="388.9"/><use id="k69-8" href="#a" x="440"/></g>
<g id="row70" transform="translate(0,3649.7)"><path class="gl" d="M26,0H65M457,0H499"/><text class="ll" x="21" y="4">70</text><text class="rl" x="501.5" y="4">70</text><rect class="hs" x="82.5" y="-5.5" width="357.5" height="11"/><use id="k70-1" href="#b" x="82.5"/><use id="k70-2" href="#b" x="133.6"/><use id="k70-3" href="#b" x="184.6"/><use id="k70-4" href="#d" x="235.7"/><use id="k70-5" href="#d" x="286.8"/><use id="k70-6" href="#b" x="337.9"/><use id="k70-7" href="#b" x="388.9"/><use id="k70-8" href="#b" x="440"/></g>
<g id="row71" transform="translate(0,3701.7)"><path class="gl" d="M26,0H65M457,0H499"/><text class="ll" x="21" y="4">71</text><text class="rl" x="501.5" y="4">71</text><rect class="hs" x="82.5" y="-5.5" width="357.5" height="11"/><use id="k71-1" href="#a" x="82.5"/><use id="k71-2" href="#a" x="133.6"/><use id="k71-3" href="#a" x="184.6"/><use id="k71-4" href="#a" x="235.7"/><use id="k71-5" href="#c" x="286.8"/><use id="k71-6" href="#c" x="337.9"/><use id="k71-7" href="#a" x="388.9"/><use id="k71-8" href="#a" x="440"/></g>
<g id="row72" transform="translate(0,3753.7)"><path class="gl" d="M457,0H499"/><text class="ll" x="21" y="4">72</text><text class="rl" x="501.5" y="4">72</text><rect class="hs" x="82.5" y="-5.5" width="357.5" height="11"/><rect class="hd" x="29" y="-5.5" width="66" height="11" rx="5.5"/><text class="tB" x="31.5" y="3.8">B</text><use id="k72-1" href="#b" x="82.5"/><use id="k72-2" href="#b" x="133.6"/><use id="k72-3" href="#b" x="184.6"/><use id="k72-4" href="#b" x="235.7"/><use id="k72-5" href="#b" x="286.8"/><use id="k72-6" href="#d" x="337.9"/><use id="k72-7" href="#b" x="388.9"/><use id="k72-8" href="#b" x="440"/></g>
<g id="row73" transform="translate(0,3805.7)"><path class="gl" d="M26,0H65M457,0H499"/><text class="ll" x="21" y="4">73</text><text class="rl" x="501.5" y="4">73</text><rect class="hs" x="82.5" y="-5.5" width="357.5" height="11"/><use id="k73-1" href="#a" x="82.5"/><use id="k73-2" href="#a" x="133.6"/><use id="k73-3" href="#a" x="184.6"/><use id="k73-4" href="#a" x="235.7"/><use id="k73-5" href="#a" x="286.8"/><use id="k73-6" href="#a" x="337.9"/><use id="k73-7" href="#a" x="388.9"/><use id="k73-8" href="#a" x="440"/></g>
<g id="row74" transform="translate(0,3857.7)"><path class="gl" d="M26,0H65M457,0H499"/><text class="ll" x="21" y="4">74</text><text class="rl" x="501.5" y="4">74</text><rect class="hs" x="82.5" y="-5.5" width="357.5" height="11"/><use id="k74-1" href="#b" x="82.5"/><use id="k74-2" href="#b" x="133.6"/><use id="k74-3" href="#b" x="184.6"/><use id="k74-4" href="#b" x="235.7"/><use id="k74-5" href="#b" x="286.8"/><use id="k74-6" href="#b" x="337.9"/><use id="k74-7" href="#b" x="388.9"/><use id="k74-8" href="#b" x="440"/></g>
<g id="row75" transform="translate(0,3909.7)"><path class="gl" d="M26,0H65"/><text class="ll" x="21" y="4">75</text><text class="rl" x="501.5" y="4">75</text><rect class="hs" x="82.5" y="-5.5" width="413.5" height="11" rx="5.5"/><text class="tA" x="486.5" y="3.8">A</text><use id="k75-1" href="#a" x="82.5"/><use id="k75-2" href="#a" x="133.6"/><use id="k75-3" href="#a" x="184.6"/><use id="k75-4" href="#a" x="235.7"/><use id="k75-5" href="#a" x="286.8"/><use id="k75-6" href="#a" x="337.9"/><use id="k75-7" href="#a" x="388.9"/><use id="k75-8" href="#a" x="440"/></g>
</g>
<text class="wm" x="266" y="2017">BRACELETBOOK.COM</text>
</svg>
